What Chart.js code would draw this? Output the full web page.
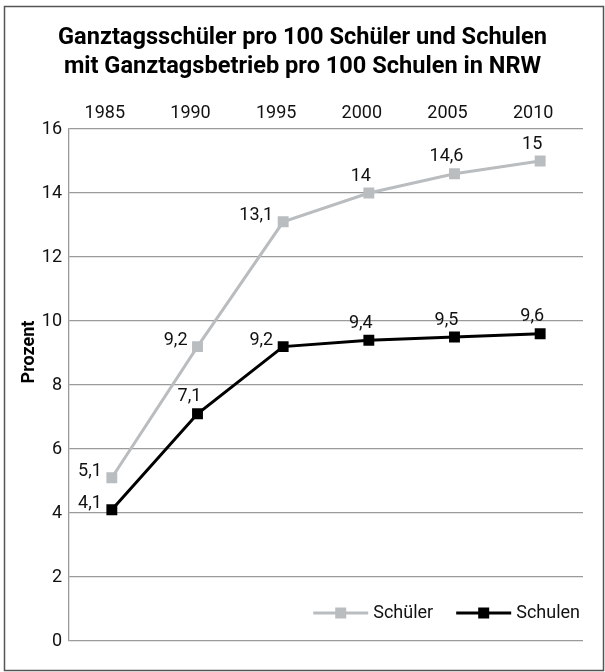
<!DOCTYPE html>
<html>
<head>
<meta charset="utf-8">
<script src="https://cdn.jsdelivr.net/npm/chart.js@4.4.0/dist/chart.umd.min.js"></script>
<style>
body{margin:0;background:#fff;}
</style>
</head>
<body>
<canvas id="myChart" width="605" height="672"></canvas>
<script>
//Daten der Grafik
var jahre = ['1985', '1990', '1995', '2000', '2005', '2010'];
var schueler = [5.1, 9.2, 13.1, 14, 14.6, 15];
var schulen = [4.1, 7.1, 9.2, 9.4, 9.5, 9.6];
var yTicks = [0, 2, 4, 6, 8, 10, 12, 14, 16];
var titel = ['Ganztagsschüler pro 100 Schüler und Schulen', 'mit Ganztagsbetrieb pro 100 Schulen in NRW'];
var achsenTitel = 'Prozent';
//wo die Werte stehen: links vom Punkt oder darueber
var seiteSchueler = ['links', 'links', 'links', 'oben', 'oben', 'oben'];
var seiteSchulen = ['links', 'oben', 'links', 'oben', 'oben', 'oben'];

Chart.defaults.font.family = 'Roboto';
Chart.defaults.color = '#111';

//Rahmen, Titel, Achsentitel, Werte und Legende selbst zeichnen
var extras = {
    id: 'extras',
    beforeDraw: function(chart){
        var ctx = chart.ctx;
        ctx.save();
        ctx.fillStyle = '#fff';
        ctx.fillRect(0, 0, chart.width, chart.height);
        ctx.restore();
    },
    afterDatasetsDraw: function(chart){
        var ctx = chart.ctx;
        ctx.save();
        ctx.font = '18px Roboto';
        ctx.fillStyle = '#111';
        ctx.textBaseline = 'middle';
        var seiten = [seiteSchueler, seiteSchulen];
        chart.data.datasets.forEach(function(ds, i){
            var meta = chart.getDatasetMeta(i);
            meta.data.forEach(function(p, j){
                var txt = String(ds.data[j]).replace('.', ',');
                if(seiten[i][j] == 'links'){
                    ctx.textAlign = 'right';
                    ctx.fillText(txt, p.x - 10, p.y - 6);
                }else{
                    ctx.textAlign = 'center';
                    ctx.fillText(txt, p.x - 8, p.y - 17);
                }
            });
        });
        ctx.restore();
    },
    afterDraw: function(chart){
        var ctx = chart.ctx;
        ctx.save();
        //Rahmen
        ctx.strokeStyle = '#555';
        ctx.lineWidth = 1.5;
        ctx.strokeRect(4.5, 6.5, 599, 664);

        //Titel, etwas schmaler gezogen
        ctx.fillStyle = '#000';
        ctx.font = 'bold 24px Roboto';
        ctx.textAlign = 'center';
        ctx.textBaseline = 'middle';
        var sx = 489 / ctx.measureText(titel[0]).width;
        ctx.save();
        ctx.translate(302.5, 0);
        ctx.scale(sx, 1);
        ctx.fillText(titel[0], 0, 38);
        ctx.fillText(titel[1], 0, 67);
        ctx.restore();

        //Achsentitel
        ctx.save();
        ctx.translate(29, 352);
        ctx.rotate(-Math.PI / 2);
        ctx.font = 'bold 18px Roboto';
        ctx.fillText(achsenTitel, 0, 0);
        ctx.restore();

        //Legende unten rechts
        ctx.font = '18px Roboto';
        ctx.textAlign = 'left';
        var x = 580, y = 613;
        var items = chart.data.datasets.slice().reverse();
        items.forEach(function(ds){
            var w = ctx.measureText(ds.label).width;
            var tx = x - w;
            ctx.fillStyle = '#111';
            ctx.fillText(ds.label, tx, y);
            var l2 = tx - 5, l1 = l2 - 55;
            ctx.strokeStyle = ds.borderColor;
            ctx.lineWidth = 3;
            ctx.beginPath();
            ctx.moveTo(l1, y);
            ctx.lineTo(l2, y);
            ctx.stroke();
            ctx.fillStyle = ds.backgroundColor;
            ctx.fillRect((l1 + l2) / 2 - 5.5, y - 5.5, 11, 11);
            x = l1 - 23;
        });
        ctx.restore();
    }
};

var ctx = document.getElementById('myChart').getContext('2d');
var myChart = new Chart(ctx, {
    type: 'line',
    data: {
        labels: jahre,
        datasets: [{
            label: 'Schüler',
            data: schueler,
            borderColor: '#b9bdc0',
            backgroundColor: '#b9bdc0',
            borderWidth: 3,
            pointStyle: 'rect',
            pointRadius: 7.7,
            pointBorderWidth: 0,
            tension: 0
        }, {
            label: 'Schulen',
            data: schulen,
            borderColor: '#000',
            backgroundColor: '#000',
            borderWidth: 3,
            pointStyle: 'rect',
            pointRadius: 7.7,
            pointBorderWidth: 0,
            tension: 0
        }]
    },
    options: {
        responsive: false,
        animation: false,
        layout: {
            padding: {top: 90, right: 22, bottom: 31, left: 0}
        },
        plugins: {
            legend: {display: false},
            tooltip: {enabled: false}
        },
        scales: {
            x: {
                position: 'top',
                offset: true,
                grid: {display: false},
                border: {display: false},
                ticks: {
                    font: {size: 18},
                    color: '#111',
                    padding: -3,
                    labelOffset: -7,
                    maxRotation: 0
                },
                afterFit: function(scale){ scale.height = 39; }
            },
            y: {
                min: yTicks[0],
                max: yTicks[yTicks.length - 1],
                ticks: {
                    stepSize: yTicks[1] - yTicks[0],
                    font: {size: 18},
                    color: '#111',
                    padding: 7
                },
                grid: {
                    color: '#9a9a9a',
                    lineWidth: 1.3,
                    drawTicks: false
                },
                border: {color: '#9a9a9a', width: 1.3},
                afterFit: function(scale){ scale.width = 69; }
            }
        }
    },
    plugins: [extras]
});
</script>
</body>
</html>
